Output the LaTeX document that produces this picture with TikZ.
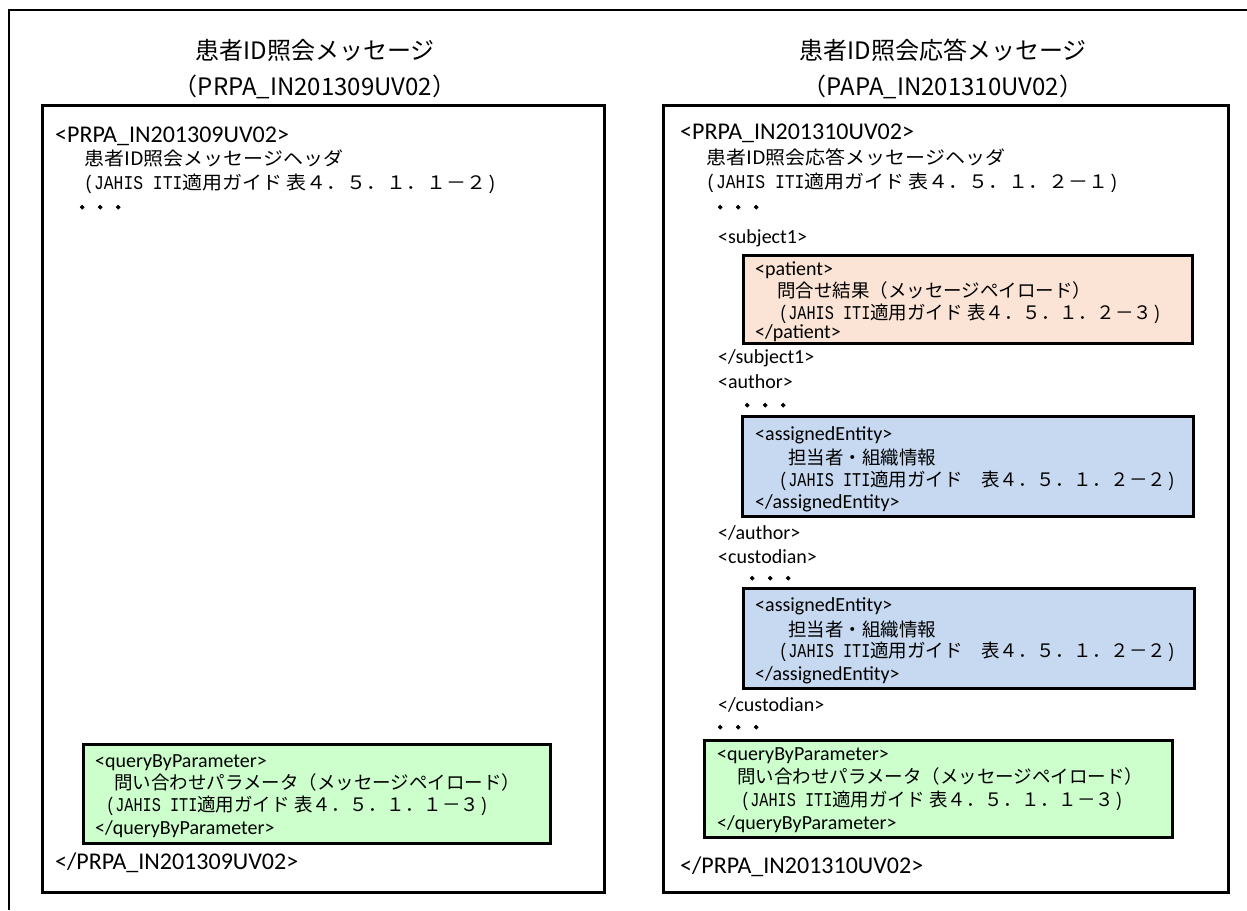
\documentclass[tikz,border=0pt]{standalone}
\usepackage{fontspec}
\setmainfont{Carlito}
\newfontfamily\jp{Noto Sans CJK JP}
\newfontfamily\jpw[FakeStretch=1.08]{Noto Sans CJK JP}
\newfontfamily\jpdots[FakeBold=4]{Noto Sans CJK JP}
\newfontfamily\hmono[FakeStretch=0.78]{Liberation Mono}
\newfontfamily\hmonow[FakeStretch=0.84]{Liberation Mono}
\newcommand\hw[1]{{\hmono\fontsize{19.5}{22}\selectfont #1}}
\newcommand\hww[1]{{\hmonow\fontsize{19.5}{22}\selectfont #1}}
\definecolor{porange}{HTML}{FBE4D5}
\definecolor{pblue}{HTML}{C6D9F1}
\definecolor{pgreen}{HTML}{CCFFCC}
\begin{document}
\begin{tikzpicture}[x=1pt,y=-1pt,
  ttl/.style={font=\jp\fontsize{24}{28}\selectfont, inner sep=0, text height=21pt, text depth=3pt},
  btag/.style={font=\fontsize{24}{28}\selectfont, anchor=west, inner sep=0, text height=18.5pt, text depth=3pt},
  stag/.style={font=\fontsize{20}{24}\selectfont, anchor=west, inner sep=0, text height=15.9pt, text depth=3pt},
  jtxt/.style={font=\jp\fontsize{18.5}{22}\selectfont, anchor=west, inner sep=0, text height=17pt, text depth=3pt},
  jhead/.style={font=\jpw\fontsize{18.5}{22}\selectfont, anchor=west, inner sep=0, text height=17pt, text depth=3pt},
  dots/.style={font=\jpdots\fontsize{18}{22}\selectfont, anchor=west, inner sep=0, text height=17pt, text depth=3pt},
  msgbox/.style={draw, line width=3pt, anchor=north west, inner sep=0, outer sep=0},
  paybox/.style={msgbox, fill=#1},
  frameline/.style={line width=2pt}
]
\useasboundingbox (0,0) rectangle (1247,910);
\fill[white] (0,0) rectangle (1247,910);
% outer frame
\coordinate (fa) at (9,910);
\coordinate (fb) at (9,10);
\coordinate (fc) at (1247,10);
\draw[frameline] (fa) -- (fb) -- (fc);

% ---------- left ----------
\node[ttl] (lt1) at (315,50) {患者ID照会メッセージ};
\node[ttl] (lt2) at (315,86) {（PRPA\_IN201309UV02）};
\node[msgbox, minimum width=562pt, minimum height=787pt] (LB) at (42,105) {};
\node[btag] (l1) at (55,135) {<PRPA\_IN201309UV02>};
\node[jhead] (l2) at (84,158) {患者ID照会メッセージヘッダ};
\node[jhead] (l3) at (84,182) {\hww{(JAHIS ITI}適用ガイド 表４．５．１．１－２\hww{)}};
\node[dots] (l4) at (73,207) {・・・};
\node[paybox=pgreen, minimum width=467pt, minimum height=99pt] (LG) at (83,744) {};
\node[stag] (lg1) at (95,761) {<queryByParameter>};
\node[jtxt] (lg2) at (114,782) {問い合わせパラメータ（メッセージペイロード）};
\node[jtxt] (lg3) at (106,804) {\hw{(JAHIS ITI}適用ガイド 表４．５．１．１－３\hw{)}};
\node[stag] (lg4) at (95,828) {</queryByParameter>};
\node[btag] (l5) at (55,862) {</PRPA\_IN201309UV02>};

% ---------- right ----------
\node[ttl] (rt1) at (943,50) {患者ID照会応答メッセージ};
\node[ttl] (rt2) at (943,86) {（PAPA\_IN201310UV02）};
\node[msgbox, minimum width=565pt, minimum height=787pt] (RB) at (663,105) {};
\node[btag] (r1) at (680,132) {<PRPA\_IN201310UV02>};
\node[jhead] (r2) at (706,157) {患者ID照会応答メッセージヘッダ};
\node[jhead] (r3) at (706,181) {\hww{(JAHIS ITI}適用ガイド 表４．５．１．２－１\hww{)}};
\node[dots] (r4) at (711,207) {・・・};
\node[stag] (r5) at (718,237) {<subject1>};
\node[paybox=porange, minimum width=449pt, minimum height=88pt] (RO) at (743,255) {};
\node[stag] (ro1) at (755,269) {<patient>};
\node[jtxt] (ro2) at (777,290) {問合せ結果（メッセージペイロード）};
\node[jtxt] (ro3) at (779,312) {\hw{(JAHIS ITI}適用ガイド 表４．５．１．２－３\hw{)}};
\node[stag] (ro4) at (755,332) {</patient>};
\node[stag] (r6) at (718,357) {</subject1>};
\node[stag] (r7) at (718,382) {<author>};
\node[dots] (r8) at (738,405) {・・・};
\node[paybox=pblue, minimum width=451pt, minimum height=100pt] (RB1) at (742,416) {};
\node[stag] (rb11) at (755,434) {<assignedEntity>};
\node[jtxt] (rb12) at (788,457) {担当者・組織情報};
\node[jtxt] (rb13) at (779,479) {\hw{(JAHIS ITI}適用ガイド　表４．５．１．２－２\hw{)}};
\node[stag] (rb14) at (755,502) {</assignedEntity>};
\node[stag] (r9) at (718,533) {</author>};
\node[stag] (r10) at (718,557) {<custodian>};
\node[dots] (r11) at (743,578) {・・・};
\node[paybox=pblue, minimum width=451pt, minimum height=100pt] (RB2) at (743,588) {};
\node[stag] (rb21) at (755,605) {<assignedEntity>};
\node[jtxt] (rb22) at (788,629) {担当者・組織情報};
\node[jtxt] (rb23) at (779,650) {\hw{(JAHIS ITI}適用ガイド　表４．５．１．２－２\hw{)}};
\node[stag] (rb24) at (755,674) {</assignedEntity>};
\node[stag] (r12) at (718,705) {</custodian>};
\node[dots] (r13) at (711,727) {・・・};
\node[paybox=pgreen, minimum width=468pt, minimum height=97pt] (RG) at (704,740) {};
\node[stag] (rg1) at (717,754) {<queryByParameter>};
\node[jtxt] (rg2) at (737,776) {問い合わせパラメータ（メッセージペイロード）};
\node[jtxt] (rg3) at (741,799) {\hw{(JAHIS ITI}適用ガイド 表４．５．１．１－３\hw{)}};
\node[stag] (rg4) at (717,823) {</queryByParameter>};
\node[btag] (r14) at (680,866) {</PRPA\_IN201310UV02>};
\end{tikzpicture}
\end{document}
